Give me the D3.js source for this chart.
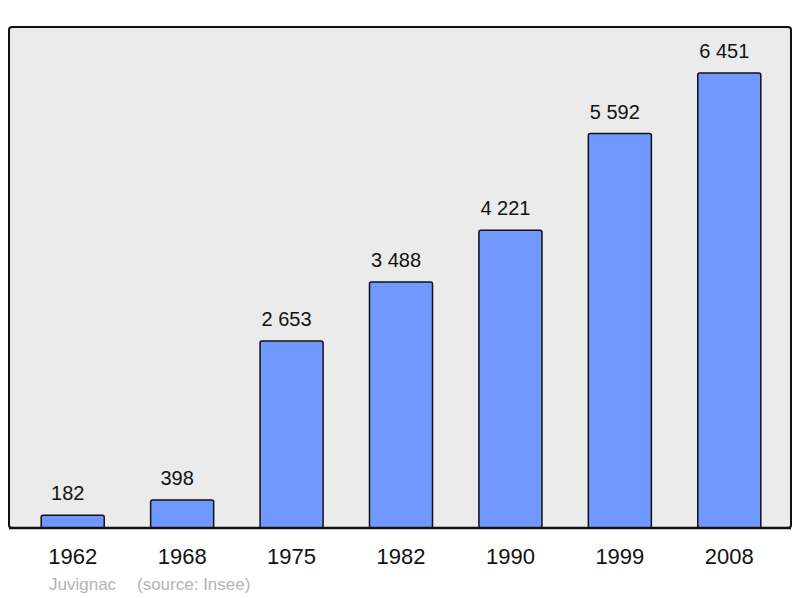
<!DOCTYPE html>
<meta charset="utf-8">
<style>
	body {
		margin: 0;
		background: #fff;
		font-family: "Liberation Sans", Arial, sans-serif;
	}
</style>
<body>
<script src="https://d3js.org/d3.v7.min.js"></script>
<script>
	var years = ["1962", "1968", "1975", "1982", "1990", "1999", "2008"];
	var population = [182, 398, 2653, 3488, 4221, 5592, 6451];
	var valueLabels = ["182", "398", "2 653", "3 488", "4 221", "5 592", "6 451"];

	var width = 800,
		height = 598;

	var svg = d3.select("body").append("svg")
		.attr("width", width)
		.attr("height", height);

	// plot frame
	svg.append("rect")
		.attr("x", 9)
		.attr("y", 27)
		.attr("width", 782)
		.attr("height", 501)
		.attr("rx", 3)
		.style("fill", "#ebebeb")
		.style("stroke", "#111")
		.style("stroke-width", 2);

	var x = d3.scaleBand()
		.domain(years)
		.range([18, 784])
		.paddingInner(0.424)
		.paddingOuter(0.212);

	var y = d3.scaleLinear()
		.domain([0, 6451])
		.range([528, 73]);

	var data = years.map(function(d, i) {
		return { year: d, value: population[i], label: valueLabels[i] };
	});

	svg.selectAll(".bar")
		.data(data)
		.enter().append("rect")
		.attr("class", "bar")
		.attr("x", function(d) { return x(d.year); })
		.attr("y", function(d) { return y(d.value); })
		.attr("width", x.bandwidth())
		.attr("height", function(d) { return y(0) - y(d.value); })
		.attr("rx", 2)
		.style("fill", "#7098ff")
		.style("stroke", "#111")
		.style("stroke-width", 1.5);

	// redraw frame bottom edge over bars
	svg.append("line")
		.attr("x1", 9)
		.attr("x2", 791)
		.attr("y1", 528)
		.attr("y2", 528)
		.style("stroke", "#111")
		.style("stroke-width", 2.5);

	svg.selectAll(".value")
		.data(data)
		.enter().append("text")
		.attr("class", "value")
		.attr("x", function(d) { return x(d.year) + x.bandwidth() / 2 - 5; })
		.attr("y", function(d) { return y(d.value) - 15; })
		.attr("text-anchor", "middle")
		.style("font-size", "20px")
		.style("fill", "#111")
		.text(function(d) { return d.label; });

	var xAxis = d3.axisBottom(x).tickSize(0).tickPadding(0);

	var gx = svg.append("g")
		.attr("transform", "translate(0,528)")
		.call(xAxis);
	gx.select(".domain").remove();
	gx.selectAll("text")
		.attr("y", 36)
		.attr("dy", 0)
		.style("font-family", "\"Liberation Sans\", Arial, sans-serif")
		.style("font-size", "22px")
		.style("fill", "#111");

	svg.append("text")
		.attr("x", 49)
		.attr("y", 590)
		.style("font-size", "17px")
		.style("fill", "#b3b3b3")
		.text("Juvignac");

	svg.append("text")
		.attr("x", 137)
		.attr("y", 590)
		.style("font-size", "17px")
		.style("fill", "#b3b3b3")
		.text("(source: Insee)");
</script>
